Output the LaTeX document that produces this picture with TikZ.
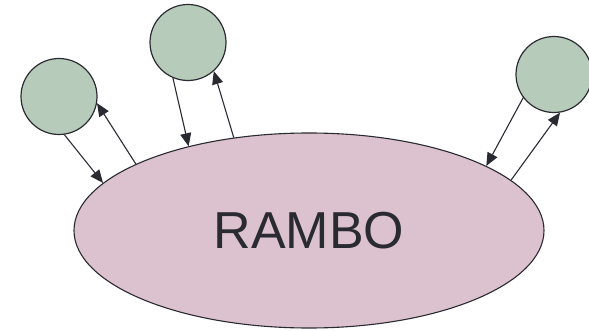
\documentclass[tikz,border=0pt]{standalone}
\usepackage{fontspec}
\setmainfont{Liberation Sans}
\usetikzlibrary{shapes.geometric,arrows.meta}
\definecolor{ballgreen}{HTML}{B7CBBB}
\definecolor{rambopink}{HTML}{DCC2CE}
\definecolor{inkdark}{HTML}{2A2A33}
\begin{document}
\begin{tikzpicture}[x=1pt,y=-1pt,
   ball/.style={circle,draw=inkdark,line width=1.2pt,fill=ballgreen,minimum size=76pt,inner sep=0pt},
   msg/.style={-{Triangle[length=13pt,width=11pt]},draw=inkdark,line width=1.1pt}]
   \useasboundingbox (0,0) rectangle (589,331);
   \node[ellipse,draw=inkdark,line width=1.1pt,fill=rambopink,minimum width=470pt,minimum height=195pt,inner sep=0pt,
         text=inkdark,font=\fontsize{52}{52}\selectfont] (R) at (309,230.5) {RAMBO};
   \node[ball] (P1) at (59,96.5) {};
   \node[ball] (P2) at (188,42.5) {};
   \node[ball] (P3) at (554,74.5) {};
   \draw[msg] (P1.-82) -- (R.167);
   \draw[msg] (R.159) -- (P1.-10);
   \draw[msg] (P2.-113) -- (R.145);
   \draw[msg] (R.129) -- (P2.-48);
   \draw[msg] (P3.217) -- (R.20);
   \draw[msg] (R.14) -- (P3.-81);
\end{tikzpicture}
\end{document}
